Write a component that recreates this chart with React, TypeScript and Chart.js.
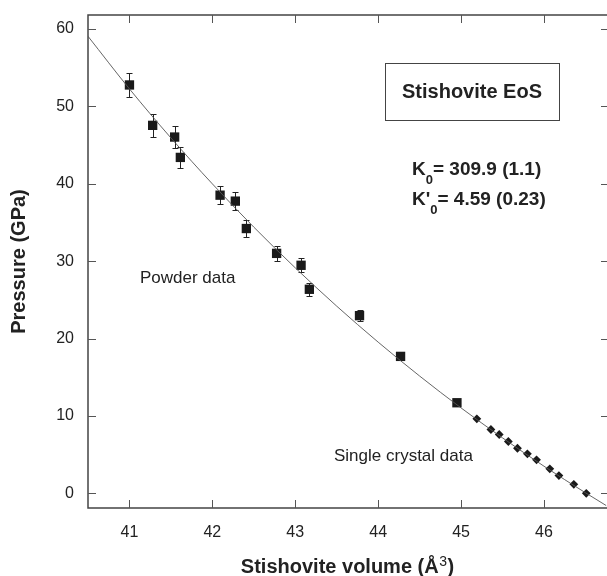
import { useEffect, useRef } from "react";
import { Chart, registerables } from "chart.js";

Chart.register(...registerables);

const xTicks = [41, 42, 43, 44, 45, 46];
const yTicks = [0, 10, 20, 30, 40, 50, 60];

const powderVolume = [41.0, 41.28, 41.545, 41.614, 42.093, 42.277, 42.41, 42.775, 43.07, 43.17, 43.775, 44.27, 44.95];
const powderPressure = [52.76, 47.54, 46.03, 43.4, 38.52, 37.75, 34.21, 31.0, 29.46, 26.36, 22.95, 17.69, 11.7];
const powderError = [1.6, 1.5, 1.46, 1.36, 1.2, 1.16, 1.08, 0.95, 0.9, 0.86, 0.7, 0.4, 0.3];

const crystalVolume = [45.19, 45.36, 45.46, 45.57, 45.68, 45.8, 45.91, 46.07, 46.18, 46.36, 46.51];
const crystalPressure = [9.62, 8.24, 7.6, 6.69, 5.82, 5.1, 4.32, 3.16, 2.29, 1.16, 0.0];

const fitVolume = [40.5, 41.0, 41.5, 42.0, 42.5, 43.0, 43.5, 44.0, 44.5, 45.0, 45.5, 46.0, 46.5, 46.75];
const fitPressure = [59.05, 52.25, 45.92, 39.98, 34.39, 29.13, 24.18, 19.53, 15.15, 11.03, 7.16, 3.5, 0.07, -1.58];

const FONT = '"Liberation Sans", Arial, Helvetica, sans-serif';
const INK = "#222";
const FRAME = "#444";

export default function App() {
  const ref = useRef<HTMLCanvasElement>(null);

  useEffect(() => {
    const canvas = ref.current!;
    const overlay = {
      id: "overlay",
      beforeDatasetsDraw(chart: any) {
        const { ctx, scales } = chart;
        const x = scales.x;
        const y = scales.y;
        ctx.save();
        ctx.strokeStyle = INK;
        ctx.lineWidth = 1;
        powderVolume.forEach((v, i) => {
          const px = Math.round(x.getPixelForValue(v)) + 0.5;
          const top = Math.round(y.getPixelForValue(powderPressure[i] + powderError[i])) + 0.5;
          const bot = Math.round(y.getPixelForValue(powderPressure[i] - powderError[i])) + 0.5;
          ctx.beginPath();
          ctx.moveTo(px, top);
          ctx.lineTo(px, bot);
          ctx.moveTo(px - 3, top);
          ctx.lineTo(px + 3, top);
          ctx.moveTo(px - 3, bot);
          ctx.lineTo(px + 3, bot);
          ctx.stroke();
        });
        ctx.restore();
      },
      afterDraw(chart: any) {
        const { ctx, chartArea, scales } = chart;
        const x = scales.x;
        const y = scales.y;
        const { left, right, top, bottom } = chartArea;
        ctx.save();
        // frame
        ctx.strokeStyle = FRAME;
        ctx.lineWidth = 1.5;
        ctx.beginPath();
        ctx.moveTo(right + 2, top);
        ctx.lineTo(left, top);
        ctx.lineTo(left, bottom);
        ctx.lineTo(right + 2, bottom);
        ctx.stroke();
        // inward ticks
        ctx.lineWidth = 1;
        ctx.strokeStyle = "#555";
        ctx.beginPath();
        xTicks.forEach((v) => {
          const px = Math.round(x.getPixelForValue(v)) + 0.5;
          ctx.moveTo(px, bottom);
          ctx.lineTo(px, bottom - 8);
          ctx.moveTo(px, top);
          ctx.lineTo(px, top + 8);
        });
        yTicks.forEach((v) => {
          const py = Math.round(y.getPixelForValue(v)) + 0.5;
          ctx.moveTo(left, py);
          ctx.lineTo(left + 8, py);
          ctx.moveTo(right, py);
          ctx.lineTo(right - 6, py);
        });
        ctx.stroke();

        // legend box
        ctx.strokeStyle = FRAME;
        ctx.lineWidth = 1;
        ctx.strokeRect(385.5, 63.5, 174, 57);
        ctx.fillStyle = INK;
        ctx.textBaseline = "middle";
        ctx.textAlign = "center";
        ctx.font = `bold 20px ${FONT}`;
        ctx.fillText("Stishovite EoS", 472, 92);

        // K lines
        ctx.textAlign = "left";
        ctx.textBaseline = "alphabetic";
        const drawK = (main: string, rest: string, xs: number, base: number) => {
          ctx.font = `bold 19px ${FONT}`;
          ctx.fillText(main, xs, base);
          let cx = xs + ctx.measureText(main).width;
          ctx.font = `bold 13px ${FONT}`;
          ctx.fillText("0", cx, base + 9);
          cx += ctx.measureText("0").width;
          ctx.font = `bold 19px ${FONT}`;
          ctx.fillText(rest, cx, base);
        };
        drawK("K", "= 309.9 (1.1)", 412, 174.5);
        drawK("K'", "= 4.59 (0.23)", 412, 205);

        // annotations
        ctx.font = `17px ${FONT}`;
        ctx.fillText("Powder data", 140, 283);
        ctx.fillText("Single crystal data", 334, 461);

        // x title with superscript
        const base = 573;
        const p1 = "Stishovite volume (Å";
        const p2 = "3";
        const p3 = ")";
        ctx.font = `bold 20px ${FONT}`;
        const w1 = ctx.measureText(p1).width;
        const w3 = ctx.measureText(p3).width;
        ctx.font = `14px ${FONT}`;
        const w2 = ctx.measureText(p2).width;
        const total = w1 + w2 + w3 + 1;
        let tx = (left + right) / 2 - total / 2;
        ctx.font = `bold 20px ${FONT}`;
        ctx.fillText(p1, tx, base);
        tx += w1 + 0.5;
        ctx.font = `14px ${FONT}`;
        ctx.fillText(p2, tx, base - 7);
        tx += w2 + 0.5;
        ctx.font = `bold 20px ${FONT}`;
        ctx.fillText(p3, tx, base);

        // y title
        ctx.save();
        ctx.translate(19, (top + bottom) / 2);
        ctx.rotate(-Math.PI / 2);
        ctx.textAlign = "center";
        ctx.textBaseline = "middle";
        ctx.font = `bold 20px ${FONT}`;
        ctx.fillText("Pressure (GPa)", 0, 0);
        ctx.restore();

        ctx.restore();
      },
    };

    const chart = new Chart(canvas, {
      type: "scatter",
      data: {
        datasets: [
          {
            type: "line",
            data: fitVolume.map((v, i) => ({ x: v, y: fitPressure[i] })),
            borderColor: "#555",
            borderWidth: 0.9,
            pointRadius: 0,
            cubicInterpolationMode: "monotone",
            fill: false,
          } as any,
          {
            data: powderVolume.map((v, i) => ({ x: v, y: powderPressure[i] })),
            pointStyle: "rect",
            pointRadius: 6.6,
            backgroundColor: "#1a1a1a",
            borderWidth: 0,
          },
          {
            data: crystalVolume.map((v, i) => ({ x: v, y: crystalPressure[i] })),
            pointStyle: "rectRot",
            pointRadius: 4.4,
            backgroundColor: "#1a1a1a",
            borderWidth: 0,
          },
        ],
      },
      options: {
        animation: false,
        responsive: false,
        events: [],
        layout: { autoPadding: false, padding: { top: 15, left: 0, right: 0, bottom: 0 } },
        plugins: { legend: { display: false }, tooltip: { enabled: false } },
        scales: {
          x: {
            type: "linear",
            min: 40.5,
            max: 46.76,
            grid: { display: false, drawTicks: false },
            border: { display: false },
            ticks: { font: { size: 16, family: FONT }, color: INK, padding: 15 },
            afterBuildTicks: (s: any) => {
              s.ticks = xTicks.map((v) => ({ value: v }));
            },
            afterFit: (s: any) => {
              s.height = 68;
              s.paddingLeft = 0;
              s.paddingRight = 0;
            },
          },
          y: {
            type: "linear",
            min: -1.9,
            max: 61.8,
            grid: { display: false, drawTicks: false },
            border: { display: false },
            ticks: { font: { size: 16, family: FONT }, color: INK, padding: 14 },
            afterBuildTicks: (s: any) => {
              s.ticks = yTicks.map((v) => ({ value: v }));
            },
            afterFit: (s: any) => {
              s.width = 88;
              s.paddingTop = 0;
              s.paddingBottom = 0;
            },
          },
        },
      },
      plugins: [overlay],
    });
    return () => chart.destroy();
  }, []);

  return (
    <div style={{ position: "absolute", left: 0, top: 0, width: 607, height: 576, background: "#fff" }}>
      <canvas ref={ref} width={607} height={576} style={{ width: 607, height: 576, display: "block" }} />
    </div>
  );
}
